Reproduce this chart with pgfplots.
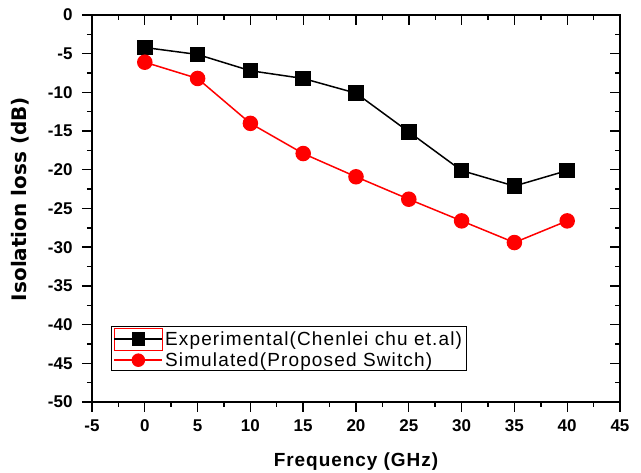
\documentclass[border=0pt]{standalone}
\usepackage{pgfplots}
\pgfplotsset{compat=1.18}
\usepackage{fontspec}
\setmainfont{Liberation Sans}
\newfontfamily\dejab{DejaVu Sans}[BoldFont={DejaVu Sans Bold}]
\pgfplotsset{
  expimg/.style={legend image code/.code={%
    \draw[red, line width=0.8pt] (0pt,-11pt) rectangle (48pt,11pt);
    \draw[mark repeat=2, mark phase=2, ##1, mark size=6pt] plot coordinates {(0pt,0pt) (24pt,0pt) (48pt,0pt)};
  }},
  simimg/.style={legend image code/.code={%
    \draw[mark repeat=2, mark phase=2, ##1, mark size=6pt] plot coordinates {(0pt,0pt) (24pt,0pt) (48pt,0pt)};
  }},
  base/.style={
    scale only axis, width=528pt, height=387pt,
    xmin=-5, xmax=45, ymin=-50, ymax=0,
    xtick distance=5, ytick distance=5, minor tick num=1,
    major tick length=10pt, minor tick length=5pt,
    axis line style={line width=1.6pt},
    every tick/.append style={black, line width=1.4pt},
    every minor tick/.append style={black, line width=1.4pt},
  }
}
\begin{document}
\begin{tikzpicture}
\begin{axis}[base, tick pos=left, tick align=outside,
  /pgf/number format/assume math mode=true,
  ticklabel style={font=\fontsize{17}{17}\selectfont\bfseries},
  xticklabel style={yshift=-4pt},
  yticklabel style={xshift=-6pt},
  xlabel={Frequency (GHz)},
  ylabel={\dejab\bfseries Isolation loss (dB)},
  xlabel style={font=\fontsize{19}{19}\selectfont\bfseries\addfontfeature{LetterSpace=5}, at={(rel axis cs:0.5,-0.155)}, anchor=center},
  ylabel style={font=\fontsize{20}{20}\selectfont, at={(rel axis cs:-0.1364,0.5245)}, anchor=center},
  legend style={at={(axis cs:-3.2,-40.2)}, anchor=north west, draw=black, line width=1.2pt,
    font=\fontsize{19}{22}\selectfont\addfontfeature{LetterSpace=6},
    inner xsep=2pt, inner ysep=1pt, row sep=0pt},
  legend cell align=left,
]
\coordinate (sw) at (rel axis cs:0,0);
\coordinate (ne) at (rel axis cs:1,1);
\addplot[black, line width=1.5pt, mark=square*, mark size=7pt,
  mark options={solid}, expimg] coordinates {
  (0,-4.2) (5,-5.1) (10,-7.2) (15,-8.2) (20,-10.1) (25,-15.1) (30,-20.1) (35,-22.1) (40,-20.1)
};
\addlegendentry{Experimental(Chenlei chu et.al)}
\addplot[red, line width=1.5pt, mark=*, mark size=7pt,
  mark options={solid}, simimg] coordinates {
  (0,-6.1) (5,-8.2) (10,-14.0) (15,-17.9) (20,-20.9) (25,-23.8) (30,-26.6) (35,-29.4) (40,-26.6)
};
\addlegendentry{Simulated(Proposed Switch)}
\end{axis}
\begin{axis}[base, tick pos=right, tick align=inside, xticklabels={}, yticklabels={}]
\end{axis}
\pgfresetboundingbox
\path (sw) ++(-92pt,-71pt) coordinate (bl);
\path (ne) ++(21pt,15pt) coordinate (tr);
\useasboundingbox (bl) rectangle (tr);
\end{tikzpicture}
\end{document}
